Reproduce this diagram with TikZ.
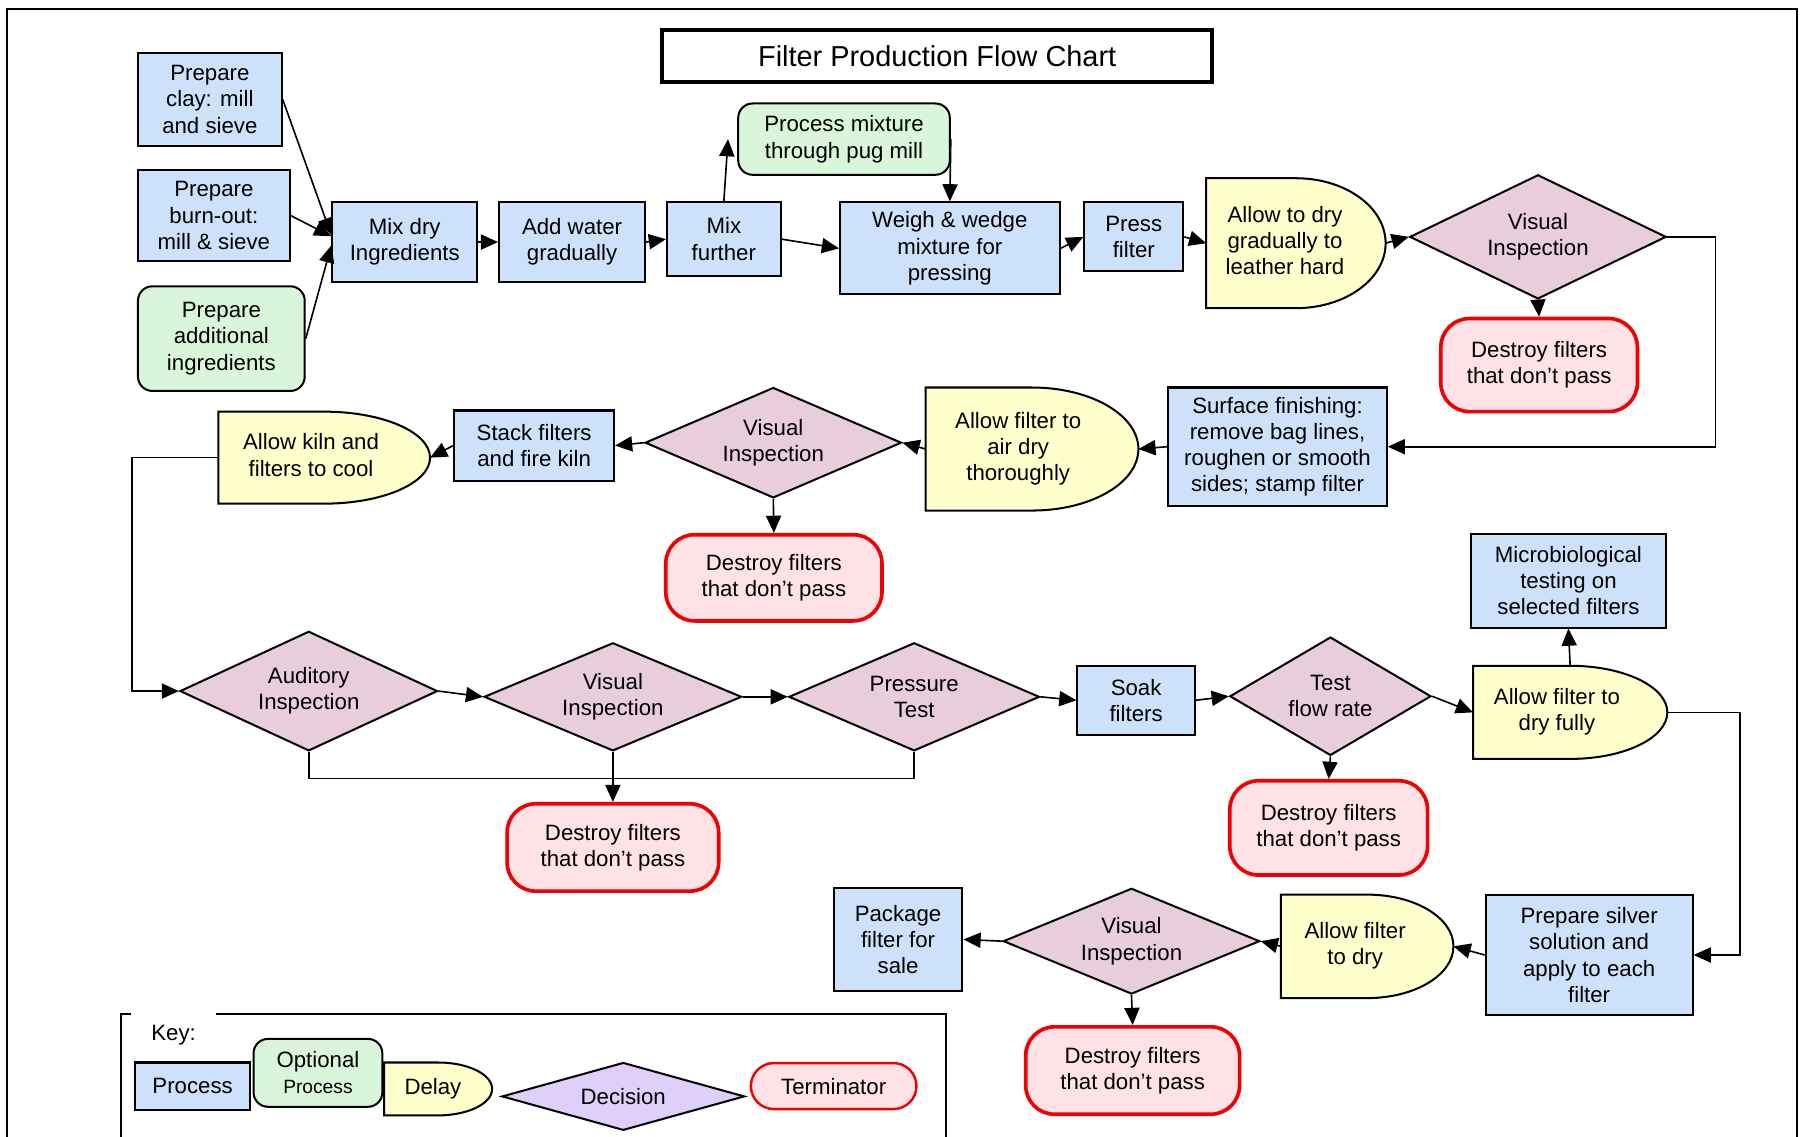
\documentclass[tikz,border=0pt]{standalone}
\usepackage{fontspec}
\setmainfont{Liberation Sans}
\usetikzlibrary{shapes.geometric,arrows.meta,calc,backgrounds}
\definecolor{procfill}{RGB}{205,226,250}
\definecolor{optfill}{RGB}{218,246,218}
\definecolor{delayfill}{RGB}{255,255,204}
\definecolor{decfill}{RGB}{232,206,220}
\definecolor{keydecfill}{RGB}{222,208,250}
\definecolor{termfill}{RGB}{255,226,230}
\definecolor{termline}{RGB}{240,0,0}
\newcommand{\delayback}[1]{\draw[delayline] let \p1=(#1.north west),\p2=(#1.south east),\n1={(\x2-\x1)/2},\n2={(\y1-\y2)/2} in (\p1) -- ({\x1+\n1},\y1) arc[start angle=90,end angle=-90,x radius=\n1,y radius=\n2] -- (\x1,\y2) -- cycle;}
\newcommand{\delaytext}[2][0.44cm]{\begin{tabular}{@{}c@{}}#2\end{tabular}\rule{#1}{0pt}}

\begin{document}
\begin{tikzpicture}[font=\fontsize{11}{13}\selectfont,
sz/.style 2 args={minimum width=#1cm,minimum height=#2cm},
proc/.style={draw,line width=1pt,fill=procfill,align=center,inner sep=1pt},
opt/.style={proc,fill=optfill,rounded corners=0.25cm},
delay/.style={inner sep=0pt,outer sep=0pt},
delayline/.style={draw,line width=1pt,fill=delayfill},
dec/.style={diamond,draw,line width=1pt,fill=decfill,align=center,inner sep=0pt,aspect=2.3},
term/.style={draw=termline,line width=1.8pt,fill=termfill,align=center,rounded corners=0.5cm},
arr/.style={line width=0.8pt,-{Triangle[length=8.5pt,width=7.5pt]}},
link/.style={line width=0.8pt}]
\useasboundingbox (0,0) rectangle (31.36,19.76);
\draw[line width=1pt](0.12,-0.1)--(0.12,19.60)--(31.26,19.60)--(31.26,-0.1);
\node[draw,line width=2pt,fill=white,sz={9.56}{0.90},font=\fontsize{14.3}{17}\selectfont] (title) at (16.30,18.79) {Filter Production Flow Chart};
\node[proc,sz={2.50}{1.62}] (clay) at (3.65,18.03) {Prepare\\clay: mill\\and sieve};
\node[proc,sz={2.64}{1.58}] (burnout) at (3.72,16.01) {Prepare\\burn-out:\\mill \& sieve};
\node[opt,sz={2.90}{1.82}] (additional) at (3.85,13.87) {Prepare\\additional\\ingredients};
\node[proc,sz={2.52}{1.38}] (mixdry) at (7.04,15.55) {Mix dry\\Ingredients};
\node[proc,sz={2.54}{1.38}] (water) at (9.95,15.55) {Add water\\gradually};
\node[proc,sz={1.98}{1.28}] (mixfurther) at (12.59,15.60) {Mix\\further};
\node[opt,sz={3.68}{1.24}] (pug) at (14.68,17.34) {Process mixture\\through pug mill};
\node[proc,sz={3.82}{1.60}] (weigh) at (16.52,15.44) {Weigh \& wedge\\mixture for\\pressing};
\node[proc,sz={1.72}{1.20}] (press) at (19.72,15.64) {Press\\filter};
\node[delay,sz={3.12}{2.26}] (dry1) at (22.54,15.53) {\delaytext[0.38cm]{Allow to dry\\gradually to\\leather hard}};
\node[dec,sz={4.46}{2.16}] (vis1) at (26.75,15.64) {Visual\\Inspection};
\node[term,sz={3.42}{1.62}] (destroy1) at (26.77,13.41) {Destroy filters\\that don’t pass};
\node[proc,sz={3.80}{2.06}] (surface) at (22.22,11.99) {Surface finishing:\\remove bag lines,\\roughen or smooth\\sides; stamp filter};
\node[delay,sz={3.70}{2.14}] (dry2) at (17.95,11.95) {\delaytext[0.48cm]{Allow filter to\\air dry\\thoroughly}};
\node[dec,sz={4.46}{1.92}] (vis2) at (13.45,12.06) {Visual\\Inspection};
\node[term,sz={3.76}{1.50}] (destroy2) at (13.46,9.71) {Destroy filters\\that don’t pass};
\node[proc,sz={2.78}{1.22}] (stack) at (9.29,12.01) {Stack filters\\and fire kiln};
\node[delay,sz={3.68}{1.60}] (kiln) at (5.64,11.80) {\delaytext[0.46cm]{Allow kiln and\\filters to cool}};
\node[dec,sz={4.48}{2.08}] (aud) at (5.37,7.74) {Auditory\\Inspection};
\node[dec,sz={4.48}{1.88}] (vis3) at (10.66,7.64) {Visual\\Inspection};
\node[dec,sz={4.36}{1.88}] (pt) at (15.90,7.64) {Pressure\\Test};
\node[term,sz={3.68}{1.52}] (destroy5) at (10.66,5.02) {Destroy filters\\that don’t pass};
\node[proc,sz={2.04}{1.20}] (soak) at (19.76,7.58) {Soak\\filters};
\node[dec,aspect=1.7,sz={3.50}{2.06}] (flow) at (23.14,7.65) {Test\\flow rate};
\node[term,sz={3.44}{1.64}] (destroy3) at (23.11,5.36) {Destroy filters\\that don’t pass};
\node[delay,sz={3.38}{1.62}] (dryfully) at (27.31,7.37) {\delaytext[0.46cm]{Allow filter to\\dry fully}};
\node[proc,sz={3.38}{1.63}] (micro) at (27.28,9.66) {Microbiological\\testing on\\selected filters};
\node[proc,sz={3.60}{2.10}] (silver) at (27.64,3.15) {Prepare silver\\solution and\\apply to each\\filter};
\node[delay,sz={3.00}{1.80}] (dry4) at (23.78,3.30) {\delaytext[0.42cm]{Allow filter\\to dry}};
\node[dec,sz={4.46}{1.84}] (vis4) at (19.68,3.39) {Visual\\Inspection};
\node[term,sz={3.72}{1.52}] (destroy4) at (19.70,1.14) {Destroy filters\\that don’t pass};
\node[proc,sz={2.24}{1.80}] (package) at (15.62,3.42) {Package\\filter for\\sale};
\draw[line width=1pt](2.28,2.12)--(2.10,2.12)--(2.10,-0.1);
\draw[line width=1pt](3.76,2.12)--(16.46,2.12)--(16.46,-0.1);
\node (keylabel) at (3.02,1.76) {Key:};
\node[proc,sz={2.00}{0.82}] (keyproc) at (3.35,0.87) {Process};
\node[opt,sz={2.24}{1.18}] (keyopt) at (5.53,1.10) {Optional\\{\fontsize{9.5}{11}\selectfont Process}};
\node[delay,sz={1.88}{0.92}] (keydelay) at (7.62,0.82) {\delaytext[0.18cm]{Delay}};
\node[dec,aspect=3.6,fill=keydecfill,sz={4.22}{1.18}] (keydec) at (10.84,0.69) {Decision};
\node[term,rounded corners=0.4cm,line width=1.2pt,sz={2.88}{0.80}] (keyterm) at (14.50,0.87) {Terminator};
\begin{scope}[on background layer]
\foreach \d in {dry1,dry2,kiln,dryfully,dry4,keydelay} {\delayback{\d}}
\end{scope}
\draw[arr](clay.east)--([yshift=0.12cm]mixdry.west);
\draw[arr](burnout.east)--([yshift=0.10cm]mixdry.west);
\draw[arr](additional.east)--([yshift=-0.06cm]mixdry.west);
\draw[arr](mixdry.east)--(water.west);
\draw[arr](water.east)--(mixfurther.west);
\draw[arr](mixfurther.north)--([xshift=-0.16cm]pug.west);
\draw[arr](pug.east)--(weigh.north);
\draw[arr](mixfurther.east)--(weigh.west);
\draw[arr](weigh.east)--(press.west);
\draw[arr](press.east)--(dry1.west);
\draw[arr](dry1.east)--(vis1.west);
\draw[arr](vis1.south)--(destroy1.north);
\draw[arr](vis1.east)--++(0.84,0)|-(surface.east);
\draw[arr](surface.west)--(dry2.east);
\draw[arr](dry2.west)--(vis2.east);
\draw[arr](vis2.west)--(stack.east);
\draw[arr](vis2.south)--(destroy2.north);
\draw[arr](stack.west)--(kiln.east);
\draw[arr](kiln.west)--++(-1.50,0)|-(aud.west);
\draw[arr](aud.east)--(vis3.west);
\draw[arr](vis3.east)--(pt.west);
\draw[arr](vis3.south)--(destroy5.north);
\coordinate (rejoin) at (10.66,6.22);
\draw[link](aud.south)|-(rejoin)-|(pt.south);
\draw[arr](pt.east)--(soak.west);
\draw[arr](soak.east)--(flow.west);
\draw[arr](flow.south)--(destroy3.north);
\draw[arr](flow.east)--(dryfully.west);
\draw[arr](dryfully.north)--(micro.south);
\draw[arr](dryfully.east)--++(1.26,0)|-(silver.east);
\draw[arr](silver.west)--(dry4.east);
\draw[arr](dry4.west)--(vis4.east);
\draw[arr](vis4.west)--(package.east);
\draw[arr](vis4.south)--(destroy4.north);
\end{tikzpicture}
\end{document}
